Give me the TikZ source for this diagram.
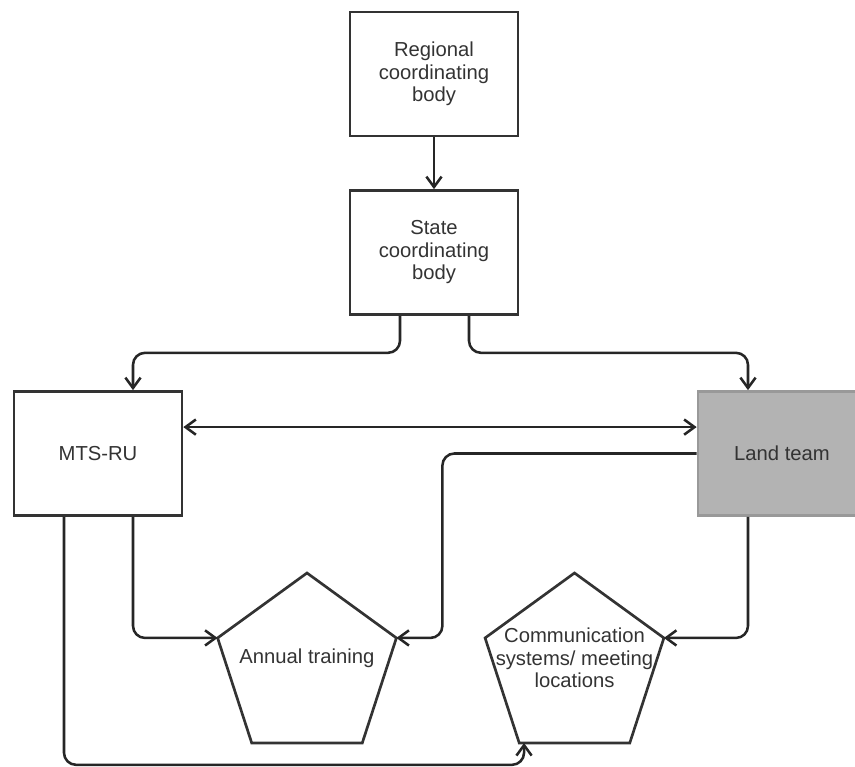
\documentclass[tikz,border=0pt]{standalone}
\usepackage{fontspec}
\setmainfont{Liberation Sans}
\usepackage{tikz}
\usetikzlibrary{arrows.meta,positioning,shapes.geometric}

\definecolor{linegray}{HTML}{333333}
\definecolor{landfill}{HTML}{B3B3B3}
\definecolor{landedge}{HTML}{999999}

\begin{document}
\begin{tikzpicture}[
  box/.style={draw=linegray, line width=1.9pt, minimum width=4.2cm, minimum height=3.1cm, align=center, font=\fontsize{14.4}{16}\selectfont, text=black!80},
  penta/.style={draw=linegray, line width=1.9pt, regular polygon, regular polygon sides=5, minimum size=4.7cm, inner sep=0pt, outer sep=0pt},
  lbl/.style={align=center, inner sep=0pt, font=\fontsize{14.4}{16}\selectfont, text=black!80},
  arr/.style={-{Straight Barb[length=2.6mm,width=3.8mm]}, line width=1.8pt, draw=black!85, rounded corners=0.3cm},
  arrboth/.style={{Straight Barb[length=2.6mm,width=3.8mm]}-{Straight Barb[length=2.6mm,width=3.8mm]}, line width=1.8pt, draw=black!85}
]
\path[use as bounding box, clip] (0,0) rectangle (21.375,-19.175);

\node[box] (reg) at (10.85,-1.85) {Regional\\coordinating\\body};
\node[box] (state) at (10.85,-6.3125) {State\\coordinating\\body};
\node[box] (mts) at (2.45,-11.3375) {MTS-RU};
\node[box, fill=landfill, draw=landedge] (land) at (19.55,-11.3375) {Land team};

% pentagons
\node[penta] (ann) at (7.675,-16.675) {};
\node[penta] (comm) at (14.3625,-16.675) {};
\node[lbl] (anntxt) at ([yshift=0.225cm]ann.center) {Annual training};
\node[lbl] (commtxt) at ([yshift=0.225cm]comm.center) {Communication\\systems/ meeting\\locations};

\draw[arr] (reg) -- (state);
\draw[arr] ([xshift=-0.85cm]state.south) -- ++(0,-0.925) -| ([xshift=0.875cm]mts.north);
\draw[arr] ([xshift=0.875cm]state.south) -- ++(0,-0.925) -| ([xshift=-0.85cm]land.north);
\draw[arrboth] ([yshift=0.66cm]mts.east) -- ([yshift=0.66cm]land.west);
\draw[arr] (land.west) -| ([xshift=1.15cm]ann.corner 5) -- (ann.corner 5);
\draw[arr] ([xshift=0.875cm]mts.south) |- (ann.corner 2);
\draw[arr] ([xshift=-0.85cm]land.south) |- (comm.corner 5);
\draw[arr] ([xshift=-0.85cm]mts.south) -- ++(0,-6.2) -| ([xshift=0.12cm]comm.corner 3);
\end{tikzpicture}
\end{document}
